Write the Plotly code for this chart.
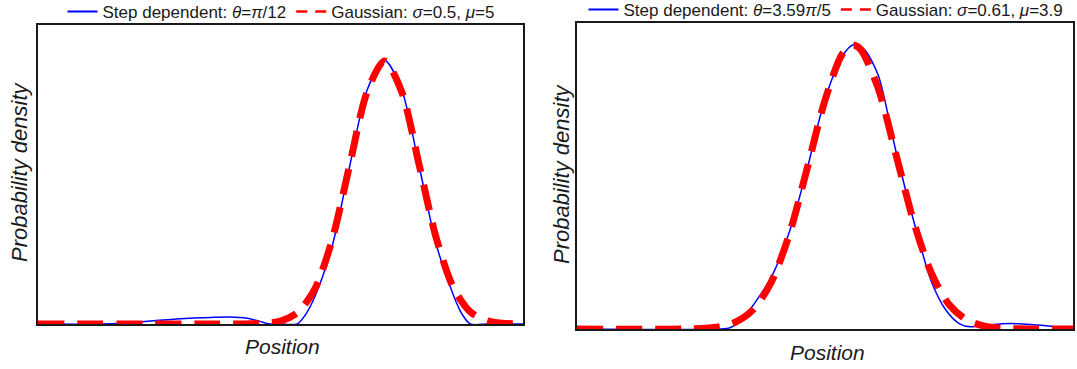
import plotly.graph_objects as go

# ---------------- data ----------------
# Left panel: step dependent (theta = pi/12) and Gaussian (sigma=0.5, mu=5)
left_step_x = [0.0, 0.9, 1.25, 1.5, 1.75, 2.0, 2.25, 2.5, 2.77, 3.0, 3.2, 3.32, 3.5, 3.74,
               3.85, 4.0, 4.25, 4.5, 4.75, 5.0, 5.25, 5.5, 5.75, 6.0, 6.12, 6.24, 6.5, 7.0]
left_step_y = [0.0, 0.0, 0.003, 0.007, 0.011, 0.015, 0.018, 0.020, 0.021, 0.018, 0.008, 0.001, 0.0, 0.0,
               0.025, 0.085, 0.24, 0.48, 0.71, 0.80, 0.71, 0.48, 0.24, 0.085, 0.03, 0.0, 0.0, 0.0]

left_gauss_x = [0.0, 2.5, 3.0, 3.25, 3.5, 3.75, 4.0, 4.25, 4.5, 4.75, 5.0,
                5.25, 5.5, 5.75, 6.0, 6.25, 6.5, 6.75, 7.0]
left_gauss_y = [0.0, 0.0, 0.0003, 0.0017, 0.009, 0.035, 0.108, 0.259, 0.484, 0.704, 0.798,
                0.704, 0.484, 0.259, 0.108, 0.035, 0.009, 0.0017, 0.0003]

# Right panel: step dependent (theta = 3.59pi/5) and Gaussian (sigma=0.61, mu=3.9)
right_step_x = [0.0, 2.0, 2.16, 2.3, 2.5, 2.75, 3.0, 3.25, 3.5, 3.75, 3.9, 4.05, 4.25, 4.5,
                4.75, 5.0, 5.2, 5.4, 5.55, 5.75, 6.0, 6.25, 6.5, 6.75, 7.0]
right_step_y = [0.0, 0.0, 0.003, 0.018, 0.058, 0.122, 0.225, 0.37, 0.53, 0.63, 0.655, 0.645, 0.585, 0.41,
                0.25, 0.11, 0.045, 0.012, 0.005, 0.008, 0.012, 0.012, 0.009, 0.005, 0.0]

right_gauss_x = [0.0, 1.5, 2.0, 2.25, 2.5, 2.75, 3.0, 3.25, 3.5, 3.75, 3.9, 4.0, 4.25, 4.5,
                 4.75, 5.0, 5.25, 5.5, 5.75, 6.0, 6.25, 6.5, 7.0]
right_gauss_y = [0.0, 0.0, 0.005, 0.017, 0.047, 0.111, 0.220, 0.371, 0.527, 0.635, 0.654, 0.645, 0.555, 0.403,
                 0.248, 0.129, 0.0565, 0.021, 0.0066, 0.0018, 0.0004, 0.0, 0.0]

left_labels = ["Step dependent: <i>θ</i>=<i>π</i>/12", "Gaussian: <i>σ</i>=0.5, <i>μ</i>=5"]
right_labels = ["Step dependent: <i>θ</i>=3.59<i>π</i>/5", "Gaussian: <i>σ</i>=0.61, <i>μ</i>=3.9"]

# ---------------- styling ----------------
BLUE = "#0000ff"
RED = "#ff0000"
FONT = "Liberation Sans, Arial, sans-serif"
W, H = 1077, 369

fig = go.Figure()

def add_panel(xa, ya, legend, sx, sy, gx, gy, labels):
    fig.add_trace(go.Scatter(x=sx, y=sy, mode="lines", xaxis=xa, yaxis=ya,
                             line=dict(color=BLUE, width=1.5, shape="spline", smoothing=0.8),
                             showlegend=False, hoverinfo="skip"))
    fig.add_trace(go.Scatter(x=gx, y=gy, mode="lines", xaxis=xa, yaxis=ya,
                             line=dict(color=RED, width=7, dash="26px,13px", shape="spline", smoothing=0.8),
                             showlegend=False, hoverinfo="skip"))
    # legend-only entries (thin lines like in the reference legend)
    fig.add_trace(go.Scatter(x=[None], y=[None], mode="lines", xaxis=xa, yaxis=ya,
                             line=dict(color=BLUE, width=2), name=labels[0], legend=legend))
    fig.add_trace(go.Scatter(x=[None], y=[None], mode="lines", xaxis=xa, yaxis=ya,
                             line=dict(color=RED, width=2.5, dash="11px,8px"), name=labels[1], legend=legend))

add_panel("x", "y", "legend", left_step_x, left_step_y, left_gauss_x, left_gauss_y, left_labels)
add_panel("x2", "y2", "legend2", right_step_x, right_step_y, right_gauss_x, right_gauss_y, right_labels)

def px_x(p):
    return p / W

def px_y(p):
    return 1 - p / H

axis_common = dict(showgrid=False, zeroline=False, showticklabels=False, ticks="",
                   showline=True, mirror=True, linecolor="#1a1a1a", linewidth=1.5)

fig.update_layout(
    width=W, height=H,
    margin=dict(l=0, r=0, t=0, b=0, autoexpand=False),
    paper_bgcolor="white", plot_bgcolor="white",
    font=dict(family=FONT, color="#1a1a1a"),
    xaxis=dict(domain=[px_x(38), px_x(523)], range=[0, 7], anchor="y", **axis_common),
    yaxis=dict(domain=[px_y(324), px_y(25)], range=[0, 0.907], anchor="x", **axis_common),
    xaxis2=dict(domain=[px_x(577), px_x(1073)], range=[0, 7], anchor="y2", **axis_common),
    yaxis2=dict(domain=[px_y(329), px_y(23)], range=[0, 0.705], anchor="x2", **axis_common),
    legend=dict(orientation="h", x=px_x(281), xanchor="center", y=px_y(12), yanchor="middle",
                font=dict(size=17, family=FONT), bgcolor="rgba(0,0,0,0)", tracegroupgap=0,
                itemwidth=30),
    legend2=dict(orientation="h", x=px_x(826), xanchor="center", y=px_y(10), yanchor="middle",
                 font=dict(size=17, family=FONT), bgcolor="rgba(0,0,0,0)", tracegroupgap=0,
                 itemwidth=30),
    showlegend=True,
)

fig.add_annotation(text="<i>Position</i>", x=px_x(282), y=px_y(346), xref="paper", yref="paper",
                   showarrow=False, font=dict(size=21, family=FONT, color="#1a1a1a"),
                   xanchor="center", yanchor="middle")
fig.add_annotation(text="<i>Position</i>", x=px_x(827), y=px_y(352), xref="paper", yref="paper",
                   showarrow=False, font=dict(size=21, family=FONT, color="#1a1a1a"),
                   xanchor="center", yanchor="middle")
fig.add_annotation(text="<i>Probability density</i>", x=px_x(19), y=px_y(172), xref="paper", yref="paper",
                   showarrow=False, font=dict(size=22, family=FONT, color="#1a1a1a"),
                   textangle=-90, xanchor="center", yanchor="middle")
fig.add_annotation(text="<i>Probability density</i>", x=px_x(561), y=px_y(174), xref="paper", yref="paper",
                   showarrow=False, font=dict(size=22, family=FONT, color="#1a1a1a"),
                   textangle=-90, xanchor="center", yanchor="middle")

fig.write_html("out.html")
